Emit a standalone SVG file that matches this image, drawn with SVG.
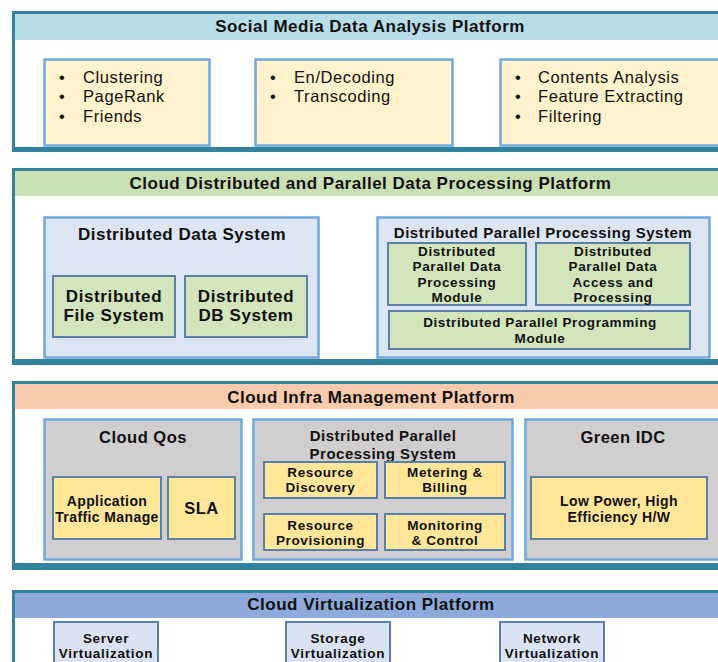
<svg xmlns="http://www.w3.org/2000/svg" width="718" height="662" viewBox="0 0 718 662">
<style>
text{font-family:"Liberation Sans",Arial,sans-serif;fill:#111}
.pt{font-size:17px;font-weight:bold;letter-spacing:0.5px;text-anchor:middle}
.bl{font-size:16.5px;letter-spacing:0.6px}
.bt{font-size:17px;font-weight:bold;letter-spacing:0.5px;text-anchor:middle}
.bt2{font-size:15px;font-weight:bold;letter-spacing:0.5px;text-anchor:middle}
.gt{font-size:16.5px;font-weight:bold;letter-spacing:0.5px;text-anchor:middle}
.st{font-size:17px;font-weight:bold;letter-spacing:0.6px;text-anchor:middle}
.sm{font-size:13.5px;font-weight:bold;letter-spacing:0.6px;text-anchor:middle}
.md{font-size:14px;font-weight:bold;letter-spacing:0.4px;text-anchor:middle}
.vt{font-size:13.5px;font-weight:bold;letter-spacing:0.7px;text-anchor:middle}
.frame{fill:#fff;stroke:#31849B;stroke-width:3}
.shadow{fill:#31849B}
.cream{fill:#FFF2CC;stroke:#6FA8DC;stroke-width:2.5}
.lblue{fill:#DCE6F2;stroke:#6FA8DC;stroke-width:2.5}
.grey{fill:#D0CECE;stroke:#6FA8DC;stroke-width:2.5}
.green{fill:#D2E5BC;stroke:#5B80A8;stroke-width:2}
.yellow{fill:#FFE699;stroke:#5B80A8;stroke-width:2}
.virt{fill:#DAE3F3;stroke:#5B80A8;stroke-width:2}
</style>

<!-- Panel 1 -->
<g id="social-media-platform">
<rect class="frame" x="13.5" y="12.5" width="720" height="136"/>
<rect class="shadow" x="12" y="147" width="710" height="5"/>
<rect x="15" y="14" width="705" height="26" fill="#B7DEE8"/>
<text class="pt" x="370" y="32">Social Media Data Analysis Platform</text>
</g>
<g id="analysis-box">
<rect class="cream" x="44.5" y="59.5" width="165" height="86"/>
<text class="bl" x="59" y="83">•</text><text class="bl" x="83" y="83">Clustering</text>
<text class="bl" x="59" y="102">•</text><text class="bl" x="83" y="102">PageRank</text>
<text class="bl" x="59" y="122">•</text><text class="bl" x="83" y="122">Friends</text>
</g>
<g id="coding-box">
<rect class="cream" x="255.5" y="59.5" width="197" height="86"/>
<text class="bl" x="270" y="83">•</text><text class="bl" x="294" y="83">En/Decoding</text>
<text class="bl" x="270" y="102">•</text><text class="bl" x="294" y="102">Transcoding</text>
</g>
<g id="contents-box">
<rect class="cream" x="500.5" y="59.5" width="230" height="86"/>
<text class="bl" x="515" y="83">•</text><text class="bl" x="538" y="83">Contents Analysis</text>
<text class="bl" x="515" y="102">•</text><text class="bl" x="538" y="102">Feature Extracting</text>
<text class="bl" x="515" y="122">•</text><text class="bl" x="538" y="122">Filtering</text>
</g>

<!-- Panel 2 -->
<g id="data-processing-platform">
<rect class="frame" x="13.5" y="169.5" width="720" height="191"/>
<rect class="shadow" x="12" y="360" width="710" height="5"/>
<rect x="15" y="171" width="705" height="25" fill="#C9E0B4"/>
<text class="pt" x="370.5" y="189">Cloud Distributed and Parallel Data Processing Platform</text>
</g>
<g id="distributed-data-system">
<rect class="lblue" x="44.5" y="217.5" width="274" height="140"/>
<text class="bt" x="182" y="239.5">Distributed Data System</text>
</g>
<g id="dfs">
<rect class="green" x="53" y="276" width="122" height="61"/>
<text class="st" x="114" y="301.5">Distributed</text>
<text class="st" x="114" y="321">File System</text>
</g>
<g id="ddb">
<rect class="green" x="185" y="276" width="122" height="61"/>
<text class="st" x="246" y="301.5">Distributed</text>
<text class="st" x="246" y="321">DB System</text>
</g>
<g id="dpps">
<rect class="lblue" x="377.5" y="217.5" width="332" height="140"/>
<text class="bt2" x="543" y="238">Distributed Parallel Processing System</text>
</g>
<g id="dpdpm">
<rect class="green" x="388" y="243" width="138" height="62"/>
<text class="sm" x="457" y="255.5">Distributed</text>
<text class="sm" x="457" y="271">Parallel Data</text>
<text class="sm" x="457" y="286.5">Processing</text>
<text class="sm" x="457" y="302">Module</text>
</g>
<g id="dpdap">
<rect class="green" x="536" y="243" width="154" height="62"/>
<text class="sm" x="613" y="255.5">Distributed</text>
<text class="sm" x="613" y="271">Parallel Data</text>
<text class="sm" x="613" y="286.5">Access and</text>
<text class="sm" x="613" y="302">Processing</text>
</g>
<g id="dppm">
<rect class="green" x="389" y="311" width="301" height="38"/>
<text class="sm" x="540" y="327">Distributed Parallel Programming</text>
<text class="sm" x="540" y="343">Module</text>
</g>

<!-- Panel 3 -->
<g id="infra-platform">
<rect class="frame" x="13.5" y="382.5" width="720" height="182"/>
<rect class="shadow" x="12" y="564" width="710" height="6"/>
<rect x="15" y="384" width="705" height="25" fill="#F8CBAD"/>
<text class="pt" x="371" y="402.5">Cloud Infra Management Platform</text>
</g>
<g id="cloud-qos">
<rect class="grey" x="44.5" y="419.5" width="197" height="140"/>
<text class="gt" x="143" y="443">Cloud Qos</text>
</g>
<g id="app-traffic">
<rect class="yellow" x="53" y="477" width="108" height="62"/>
<text class="md" x="107" y="505.5">Application</text>
<text class="md" x="107" y="521.5">Traffic Manage</text>
</g>
<g id="sla">
<rect class="yellow" x="168" y="477" width="67" height="62"/>
<text class="gt" x="201.5" y="514">SLA</text>
</g>
<g id="dpps-infra">
<rect class="grey" x="253.5" y="419.5" width="259" height="140"/>
<text class="bt2" x="383" y="441">Distributed Parallel</text>
<text class="bt2" x="383" y="459">Processing System</text>
</g>
<g id="resource-discovery">
<rect class="yellow" x="264" y="462" width="113" height="36"/>
<text class="sm" x="320.5" y="476.5">Resource</text>
<text class="sm" x="320.5" y="492">Discovery</text>
</g>
<g id="metering-billing">
<rect class="yellow" x="385" y="462" width="120" height="36"/>
<text class="sm" x="445" y="476.5">Metering &amp;</text>
<text class="sm" x="445" y="492">Billing</text>
</g>
<g id="resource-provisioning">
<rect class="yellow" x="264" y="514" width="113" height="36"/>
<text class="sm" x="320.5" y="529.5">Resource</text>
<text class="sm" x="320.5" y="545">Provisioning</text>
</g>
<g id="monitoring-control">
<rect class="yellow" x="385" y="514" width="120" height="36"/>
<text class="sm" x="445" y="529.5">Monitoring</text>
<text class="sm" x="445" y="545">&amp; Control</text>
</g>
<g id="green-idc">
<rect class="grey" x="525.5" y="419.5" width="205" height="140"/>
<text class="gt" x="623" y="443">Green IDC</text>
</g>
<g id="low-power">
<rect class="yellow" x="531" y="477" width="176" height="62"/>
<text class="md" x="619" y="505.5">Low Power, High</text>
<text class="md" x="619" y="521.5">Efficiency H/W</text>
</g>

<!-- Panel 4 -->
<g id="virtualization-platform">
<rect class="frame" x="13.5" y="591.5" width="720" height="100"/>
<rect x="15" y="593" width="705" height="25" fill="#8EAADB"/>
<text class="pt" x="371" y="610">Cloud Virtualization Platform</text>
</g>
<g id="server-virt">
<rect class="virt" x="54" y="622" width="104" height="60"/>
<text class="vt" x="106" y="642.5">Server</text>
<text class="vt" x="106" y="658">Virtualization</text>
</g>
<g id="storage-virt">
<rect class="virt" x="286" y="622" width="104" height="60"/>
<text class="vt" x="338" y="642.5">Storage</text>
<text class="vt" x="338" y="658">Virtualization</text>
</g>
<g id="network-virt">
<rect class="virt" x="500" y="622" width="104" height="60"/>
<text class="vt" x="552" y="642.5">Network</text>
<text class="vt" x="552" y="658">Virtualization</text>
</g>
<g id="connectors"></g>
</svg>
